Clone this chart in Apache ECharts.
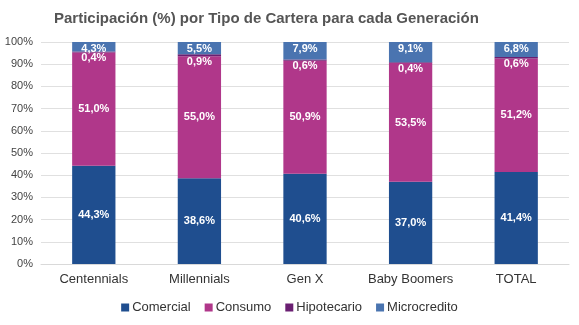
<!DOCTYPE html>
<html>
<head>
<meta charset="utf-8">
<script src="https://cdn.jsdelivr.net/npm/echarts@6/dist/echarts.min.js"></script>
<style>
  html, body { margin: 0; padding: 0; background: #fff; }
  #chart { width: 579px; height: 325px; }
</style>
</head>
<body>
<div id="chart"></div>
<script>
// Participación por tipo de cartera (%), por generación
const categories = ['Centennials', 'Millennials', 'Gen X', 'Baby Boomers', 'TOTAL'];
const comercial    = [44.3, 38.6, 40.6, 37.0, 41.4];
const consumo      = [51.0, 55.0, 50.9, 53.5, 51.2];
const hipotecario  = [0.4, 0.9, 0.6, 0.4, 0.6];
const microcredito = [4.3, 5.5, 7.9, 9.1, 6.8];

const FONT = '"Liberation Sans", Arial, sans-serif';
const fmt = p => p.value.toFixed(1).replace('.', ',') + '%';

const baseLabel = {
  show: true,
  color: '#fff',
  fontWeight: 'bold',
  fontSize: 11,
  fontFamily: FONT,
  formatter: fmt
};

function stackSeries(name, data, color, label) {
  return {
    name, type: 'bar', stack: 'total', data,
    barWidth: '41%',
    itemStyle: { color },
    label: Object.assign({}, baseLabel, label)
  };
}

const chart = echarts.init(document.getElementById('chart'), null, { renderer: 'canvas' });
chart.setOption({
  animation: false,
  textStyle: { fontFamily: FONT },
  title: {
    text: 'Participación (%) por Tipo de Cartera para cada Generación',
    left: 49, top: 6,
    textStyle: { fontSize: 15, fontWeight: 'bold', color: '#555', fontFamily: FONT }
  },
  legend: {
    bottom: 6, left: 'center',
    itemWidth: 8, itemHeight: 8, itemGap: 14,
    icon: 'rect',
    textStyle: { fontSize: 13, color: '#333', fontFamily: FONT, padding: [0, 0, 0, -2] }
  },
  grid: { left: 41, right: 10, top: 42, bottom: 61 },
  xAxis: {
    type: 'category',
    data: categories,
    axisLine: { lineStyle: { color: '#d9d9d9' } },
    axisTick: { show: false },
    axisLabel: { interval: 0, fontSize: 13, color: '#333', margin: 9, fontFamily: FONT }
  },
  yAxis: {
    type: 'value',
    min: 0, max: 100, interval: 10,
    axisLine: { show: false },
    axisTick: { show: false },
    splitLine: { lineStyle: { color: '#e0e0e0' } },
    axisLabel: { fontSize: 11, color: '#444', margin: 8, formatter: v => v + '%', fontFamily: FONT }
  },
  series: [
    stackSeries('Comercial', comercial, '#1f4e8f', { position: 'inside' }),
    stackSeries('Consumo', consumo, '#b0378a', { position: 'inside' }),
    stackSeries('Hipotecario', hipotecario, '#6a1f72', { position: 'bottom', distance: 0 }),
    stackSeries('Microcredito', microcredito, '#4a74b0', { position: 'insideTop', distance: 1 })
  ]
});
</script>
</body>
</html>
